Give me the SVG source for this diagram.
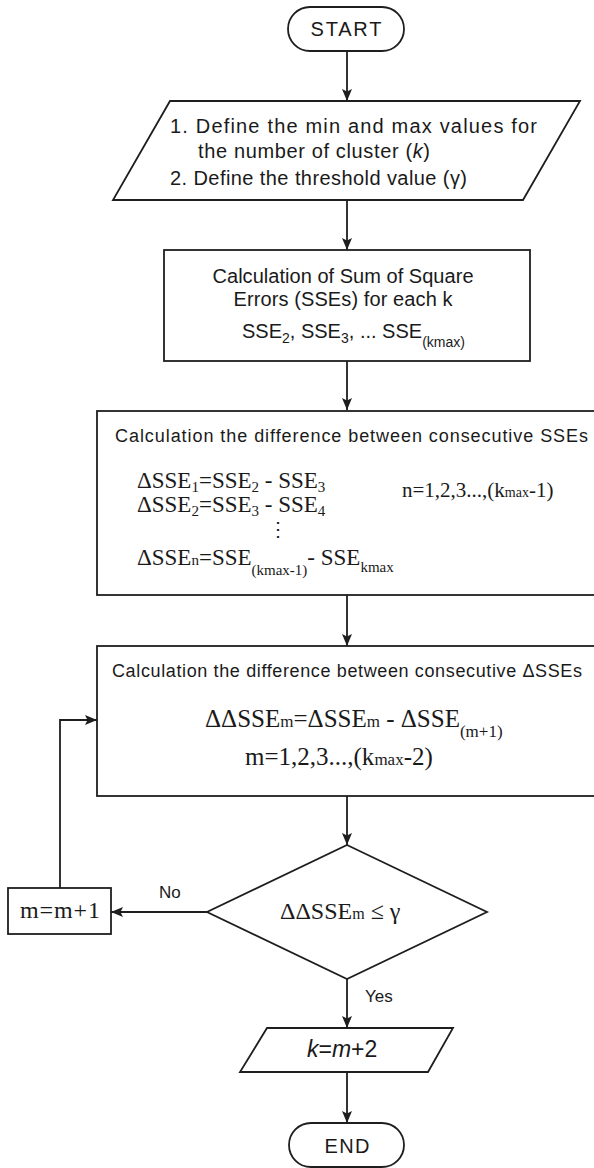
<svg xmlns="http://www.w3.org/2000/svg" width="594" height="1168" viewBox="0 0 594 1168">
<style>
.sh{fill:#ffffff;stroke:#1e1e1e;stroke-width:1.8}
.ln{fill:none;stroke:#1e1e1e;stroke-width:1.8}
.sans{font-family:"Liberation Sans",Arial,sans-serif;fill:#1a1a1a}
.serif{font-family:"Liberation Serif","Times New Roman",serif;fill:#1a1a1a}
</style>
<defs>
<marker id="ah" markerUnits="userSpaceOnUse" markerWidth="14" markerHeight="12" refX="12" refY="5" orient="auto">
<path d="M0,0 L12,5 L0,10 L2.5,5 z" fill="#1e1e1e"/>
</marker>
</defs>
<rect width="594" height="1168" fill="#ffffff"/>

<g id="start">
<rect class="sh" x="288" y="7" width="116" height="44" rx="22"/>
<text class="sans" x="346" y="36" font-size="20" text-anchor="middle" textLength="71" lengthAdjust="spacing">START</text>
</g>

<g id="define">
<polygon class="sh" points="170,101 580,101 523,200 113,200"/>
<text class="sans" x="170" y="133" font-size="20" textLength="367" lengthAdjust="spacing">1. Define the min and max values for</text>
<text class="sans" x="198" y="158" font-size="20" textLength="232" lengthAdjust="spacing">the number of cluster  (<tspan font-style="italic">k</tspan>)</text>
<text class="sans" x="170" y="185" font-size="20" textLength="297" lengthAdjust="spacing">2. Define the threshold value (γ)</text>
</g>

<g id="sse">
<rect class="sh" x="164" y="250" width="366" height="111"/>
<text class="sans" x="343" y="283" font-size="20" text-anchor="middle" textLength="261" lengthAdjust="spacing">Calculation of Sum of Square</text>
<text class="sans" x="343" y="306" font-size="20" text-anchor="middle" textLength="219" lengthAdjust="spacing">Errors (SSEs) for each k</text>
<text class="sans" x="242" y="338" font-size="20">SSE<tspan font-size="14" dy="5">2</tspan><tspan dy="-5">, SSE</tspan><tspan font-size="14" dy="5">3</tspan><tspan dy="-5">, ... SSE</tspan><tspan font-size="14" dy="9">(kmax)</tspan></text>
</g>

<g id="dsse">
<rect class="sh" x="97" y="411" width="505" height="184"/>
<text class="sans" x="115" y="442" font-size="18" textLength="473" lengthAdjust="spacing">Calculation the difference between consecutive SSEs</text>
<text class="serif" x="137" y="488" font-size="23">ΔSSE<tspan font-size="15" dy="4">1</tspan><tspan dy="-4">=SSE</tspan><tspan font-size="15" dy="4">2</tspan><tspan dy="-4"> - SSE</tspan><tspan font-size="15" dy="4">3</tspan></text>
<text class="serif" x="137" y="512" font-size="23">ΔSSE<tspan font-size="15" dy="4">2</tspan><tspan dy="-4">=SSE</tspan><tspan font-size="15" dy="4">3</tspan><tspan dy="-4"> - SSE</tspan><tspan font-size="15" dy="4">4</tspan></text>
<text class="serif" x="278" y="536" font-size="20" text-anchor="middle">⋮</text>
<text class="serif" x="137" y="565" font-size="23">ΔSSE<tspan font-size="15">n</tspan>=SSE<tspan font-size="15" dy="10">(kmax-1)</tspan><tspan dy="-10">- SSE</tspan><tspan font-size="15" dy="7">kmax</tspan></text>
<text class="serif" x="402" y="497" font-size="21">n=1,2,3...,(k<tspan font-size="14">max</tspan>-1)</text>
</g>

<g id="ddsse">
<rect class="sh" x="97" y="646" width="505" height="150"/>
<text class="sans" x="112" y="677" font-size="18" textLength="470" lengthAdjust="spacing">Calculation the difference between consecutive ΔSSEs</text>
<text class="serif" x="205" y="727" font-size="25">ΔΔSSE<tspan font-size="17">m</tspan>=ΔSSE<tspan font-size="17">m</tspan> - ΔSSE<tspan font-size="17" dy="10">(m+1)</tspan></text>
<text class="serif" x="245" y="765" font-size="25">m=1,2,3...,(k<tspan font-size="17">max</tspan>-2)</text>
</g>

<g id="decision">
<polygon class="sh" points="347,845 487,912 347,979 207,912"/>
<text class="serif" x="280" y="919" font-size="24">ΔΔSSE<tspan font-size="16">m</tspan> ≤ γ</text>
</g>

<g id="increment">
<rect class="sh" x="8" y="888" width="103" height="46"/>
<text class="serif" x="20" y="918" font-size="24" textLength="80" lengthAdjust="spacing">m=m+1</text>
</g>

<g id="result">
<polygon class="sh" points="267,1028 453,1028 428,1072 240,1072"/>
<text class="sans" x="307" y="1057" font-size="23" font-style="italic">k<tspan font-style="normal">=</tspan>m<tspan font-style="normal">+2</tspan></text>
</g>

<g id="end">
<rect class="sh" x="289" y="1123" width="115" height="44" rx="22"/>
<text class="sans" x="347" y="1153" font-size="20" text-anchor="middle" textLength="45" lengthAdjust="spacing">END</text>
</g>

<g id="connectors">
<line class="ln" x1="347" y1="51" x2="347" y2="101" marker-end="url(#ah)"/>
<line class="ln" x1="347" y1="200" x2="347" y2="250" marker-end="url(#ah)"/>
<line class="ln" x1="347" y1="361" x2="347" y2="410" marker-end="url(#ah)"/>
<line class="ln" x1="347" y1="595" x2="347" y2="646" marker-end="url(#ah)"/>
<line class="ln" x1="347" y1="796" x2="347" y2="845" marker-end="url(#ah)"/>
<line class="ln" x1="207" y1="912" x2="111" y2="912" marker-end="url(#ah)"/>
<polyline class="ln" points="60,888 60,720 97,720" marker-end="url(#ah)"/>
<line class="ln" x1="347" y1="979" x2="347" y2="1028" marker-end="url(#ah)"/>
<line class="ln" x1="347" y1="1072" x2="347" y2="1123" marker-end="url(#ah)"/>
<text class="sans" x="159" y="898" font-size="17">No</text>
<text class="sans" x="365" y="1002" font-size="17">Yes</text>
</g>
</svg>
